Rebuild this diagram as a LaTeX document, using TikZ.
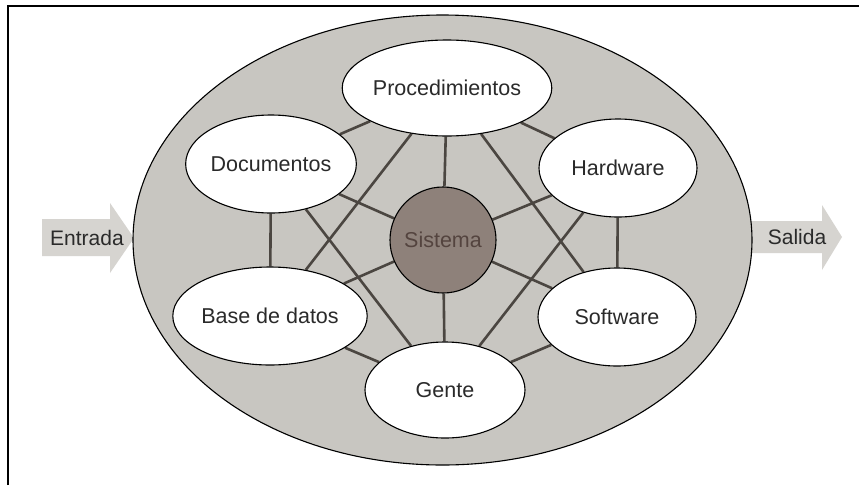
\documentclass[tikz,border=0pt]{standalone}
\usepackage{fontspec}
\setmainfont{Liberation Sans}
\usetikzlibrary{shapes.geometric}
\definecolor{halftone}{HTML}{C8C6C1}
\definecolor{arrowfill}{HTML}{D6D4D0}
\definecolor{sysfill}{HTML}{8E817A}
\definecolor{systext}{HTML}{54443F}
\definecolor{edgecol}{HTML}{4B4641}
\definecolor{labtext}{HTML}{2A2A2A}
\pgfdeclarelayer{bg}
\pgfdeclarelayer{mid}
\pgfsetlayers{bg,mid,main}
\tikzset{
  comp/.style={ellipse, draw=black, line width=1.1pt, fill=white, inner sep=0pt,
    minimum width=158pt, minimum height=98pt, text=labtext,
    font=\fontsize{21.5}{25}\selectfont},
  link/.style={draw=edgecol, line width=2.6pt},
  flowarrow/.style={fill=arrowfill, draw=none},
  flowlabel/.style={text=labtext, font=\fontsize{21}{25}\selectfont, inner sep=0pt},
}
\begin{document}
\begin{tikzpicture}[x=1pt,y=-1pt]
\useasboundingbox (0,0) rectangle (859,485);
\begin{pgfonlayer}{bg}
  \fill[white] (0,0) rectangle (859,485);
  % flow arrows
  \fill[flowarrow] (42,219) -- (110,219) -- (110,203) -- (134,238) -- (110,273) -- (110,256) -- (42,256) -- cycle;
  \fill[flowarrow] (740,221) -- (822,221) -- (822,205) -- (842,237) -- (822,270) -- (822,253) -- (740,253) -- cycle;
  % outer ellipse
  \node[ellipse, draw=black, line width=1.1pt, fill=halftone, inner sep=0pt,
        minimum width=619pt, minimum height=450pt] (outer) at (442.5,240) {};
\end{pgfonlayer}
% frame (left and top edges visible)
\draw[line width=1.6pt] (8,485) -- (8,6) -- (859,6);

\node[flowlabel] (entrada) at (87,238) {Entrada};
\node[flowlabel] (salida) at (797,237) {Salida};

% components
\node[comp, minimum width=160pt, minimum height=96pt] (proc) at (447,88) {Procedimientos};
\node[comp] (doc) at (271,164) {Documentos};
\node[comp] (hw) at (618,168) {Hardware};
\node[comp] (bd) at (270,316) {Base de datos};
\node[comp] (sw) at (617,317) {Software};
\node[comp, minimum width=160pt, minimum height=96pt] (gente) at (445,390) {Gente};
\node[circle, draw=black, line width=1.1pt, fill=sysfill, minimum size=106pt, inner sep=0pt,
      text=systext, font=\fontsize{21.5}{25}\selectfont] (sis) at (443,240) {Sistema};

% connectors
\begin{pgfonlayer}{mid}
  % spokes
  \foreach \n in {proc,doc,hw,bd,sw,gente} \draw[link] (sis) -- (\n);
  % ring
  \draw[link] (proc) -- (doc);
  \draw[link] (doc) -- (bd);
  \draw[link] (bd) -- (gente);
  \draw[link] (gente) -- (sw);
  \draw[link] (sw) -- (hw);
  \draw[link] (hw) -- (proc);
  % diagonals
  \draw[link] (proc) -- (bd);
  \draw[link] (proc) -- (sw);
  \draw[link] (doc) -- (gente);
  \draw[link] (hw) -- (gente);
\end{pgfonlayer}
\end{tikzpicture}
\end{document}
